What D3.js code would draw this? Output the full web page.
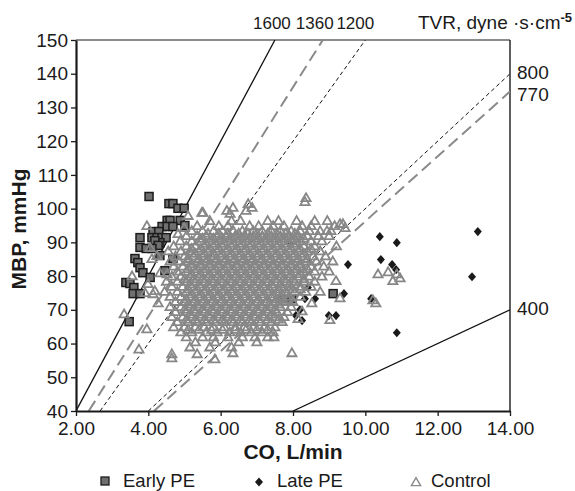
<!DOCTYPE html>
<html lang="en">
<head>
<meta charset="utf-8">
<title>MBP vs CO</title>
<script src="https://d3js.org/d3.v7.min.js"></script>
<style>
  body { margin: 0; background: #fff; }
  svg text { font-family: "Liberation Sans", Arial, sans-serif; fill: #1a1a1a; }
</style>
</head>
<body>
<script>
// tick values
var xTicks = [2, 4, 6, 8, 10, 12, 14];
var yTicks = [40, 50, 60, 70, 80, 90, 100, 110, 120, 130, 140, 150];

// TVR iso-lines (dyne·s·cm-5), MBP = TVR * CO / 80
var tvrValues = [1600, 1360, 1200, 800, 770, 400];

// Early PE  [CO, MBP]
var earlyPE = [
  [4.02,103.6],[4.57,101.5],[4.68,101.5],[4.82,100.1],[4.99,100.1],
  [4.52,96.5],[4.60,96.5],[4.88,96.5],[4.38,94.7],[4.52,94.7],[4.68,94.7],[5.01,95.0],
  [4.13,93.2],[4.29,93.2],[3.77,91.4],[4.10,91.4],[4.24,91.4],[4.38,91.4],[4.49,91.4],
  [4.32,89.9],[4.18,90.5],[4.27,89.1],[3.77,88.5],[3.94,88.2],[4.10,88.2],[4.32,86.1],
  [3.63,85.2],[3.71,84.0],[4.68,85.2],[3.77,82.5],[3.85,81.0],[4.05,79.6],[4.46,81.6],
  [3.38,78.1],[3.49,77.8],[3.60,76.6],[3.58,74.8],[3.77,74.8],[3.47,66.5],
  [7.70,73.3],[7.97,73.3],[9.11,74.8]
];

// Late PE  [CO, MBP]
var latePE = [
  [10.40,91.7],[10.87,89.9],[13.11,93.2],[9.52,83.4],[10.43,84.9],[10.74,83.4],
  [10.85,81.9],[12.95,79.8],[9.41,74.8],[10.16,73.3],[10.87,63.2],[8.33,73.3],
  [8.61,73.3],[8.19,70.0],[8.08,68.3],[8.25,66.8],[8.99,68.3],[9.19,68.3],
  [7.92,89.4],[8.41,76.6]
];

// Control, scattered points [CO, MBP]
var controlOutliers = [
  [3.96,95.0],[4.05,88.5],[4.24,86.1],[4.10,85.2],[4.82,92.6],[5.10,98.0],[5.51,98.9],
  [4.99,94.4],[4.88,90.5],[3.99,77.8],[4.18,75.7],[3.91,75.1],[4.13,74.8],[3.55,80.1],
  [4.52,80.7],[4.32,81.0],[3.33,68.8],[3.96,64.4],[4.27,72.1],[3.74,58.4],
  [4.65,57.0],[4.65,55.8],[5.35,57.0],[5.84,55.5],[6.34,57.3],[7.97,57.3],[7.47,62.0],
  [9.02,67.1],[8.52,72.1],[9.30,73.6],[8.25,69.7],[8.14,67.4],[9.19,78.7],
  [10.35,80.7],[10.63,81.3],[10.87,80.7],[10.96,79.5],[10.76,78.7],[10.29,72.1],[10.21,73.0],
  [9.38,95.6],[9.44,94.4],[8.36,103.3],[8.33,102.1],[9.30,95.6],[8.94,93.5],
  [6.17,99.5],[6.34,100.4],[6.26,98.6],[6.76,101.5],[6.87,100.4],[6.70,99.5],[5.48,98.9]
];

// Control, dense cloud read row by row: [MBP, [CO...]]
var controlRows = [
  [96.5, [5.7, 6.3, 6.55, 7.3, 7.6, 8.1, 8.6, 8.95]],
  [95.0, [5.35, 5.95, 6.2, 6.8, 7.05, 7.45, 7.75, 8.25, 8.5, 9.15]],
  [93.5, [5.2, 5.5, 5.8, 6.05, 6.35, 6.6, 6.9, 7.15, 7.4, 7.65, 7.95, 8.2, 8.45, 8.75, 9.05]],
  [92.75, [5.65, 5.95, 6.2, 6.5, 6.75, 7.0, 7.3, 7.55, 7.8, 8.05]],
  [92.0, [5.05, 5.35, 5.6, 5.9, 6.15, 6.4, 6.65, 6.9, 7.15, 7.4, 7.65, 7.9, 8.15, 8.4, 8.7, 9.0]],
  [91.25, [5.5, 5.8, 6.05, 6.3, 6.55, 6.8, 7.05, 7.3, 7.55, 7.8, 8.05, 8.3]],
  [90.5, [5.2, 5.45, 5.7, 5.95, 6.2, 6.45, 6.7, 6.95, 7.2, 7.45, 7.7, 7.95, 8.2, 8.5, 8.8]],
  [89.75, [5.6, 5.85, 6.1, 6.35, 6.6, 6.85, 7.1, 7.35, 7.6, 7.85, 8.1]],
  [89.0, [4.7, 5.05, 5.3, 5.55, 5.8, 6.05, 6.3, 6.55, 6.8, 7.05, 7.3, 7.55, 7.8, 8.05, 8.3, 8.6, 9.2]],
  [88.25, [5.2, 5.45, 5.7, 5.95, 6.2, 6.45, 6.7, 6.95, 7.2, 7.45, 7.7, 7.95, 8.2, 8.5]],
  [87.5, [4.55, 4.9, 5.15, 5.4, 5.65, 5.9, 6.15, 6.4, 6.65, 6.9, 7.15, 7.4, 7.65, 7.9, 8.15, 8.4, 8.75]],
  [86.75, [5.3, 5.55, 5.8, 6.05, 6.3, 6.55, 6.8, 7.05, 7.3, 7.55, 7.8, 8.05, 8.3]],
  [86.0, [4.75, 5.0, 5.25, 5.5, 5.75, 6.0, 6.25, 6.5, 6.75, 7.0, 7.25, 7.5, 7.75, 8.0, 8.25, 8.55, 8.9]],
  [85.25, [5.1, 5.4, 5.65, 5.9, 6.15, 6.4, 6.65, 6.9, 7.15, 7.4, 7.65, 7.9, 8.15, 8.4]],
  [84.5, [4.6, 4.85, 5.1, 5.35, 5.6, 5.85, 6.1, 6.35, 6.6, 6.85, 7.1, 7.35, 7.6, 7.85, 8.1, 8.35, 8.65, 9.1]],
  [83.75, [5.2, 5.45, 5.7, 5.95, 6.2, 6.45, 6.7, 6.95, 7.2, 7.45, 7.7, 7.95, 8.2]],
  [83.0, [4.7, 4.95, 5.2, 5.45, 5.7, 5.95, 6.2, 6.45, 6.7, 6.95, 7.2, 7.45, 7.7, 7.95, 8.2, 8.5, 8.85]],
  [82.25, [5.1, 5.35, 5.6, 5.85, 6.1, 6.35, 6.6, 6.85, 7.1, 7.35, 7.6, 7.85, 8.1, 8.4]],
  [81.5, [4.8, 5.05, 5.3, 5.55, 5.8, 6.05, 6.3, 6.55, 6.8, 7.05, 7.3, 7.55, 7.8, 8.05, 8.3, 8.6, 9.0]],
  [80.75, [5.2, 5.45, 5.7, 5.95, 6.2, 6.45, 6.7, 6.95, 7.2, 7.45, 7.7, 7.95, 8.2]],
  [80.0, [4.65, 4.9, 5.15, 5.4, 5.65, 5.9, 6.15, 6.4, 6.65, 6.9, 7.15, 7.4, 7.65, 7.9, 8.15, 8.45, 8.8]],
  [79.25, [5.0, 5.25, 5.5, 5.75, 6.0, 6.25, 6.5, 6.75, 7.0, 7.25, 7.5, 7.75, 8.0, 8.3]],
  [78.5, [4.5, 4.8, 5.05, 5.3, 5.55, 5.8, 6.05, 6.3, 6.55, 6.8, 7.05, 7.3, 7.55, 7.8, 8.05, 8.3, 8.6]],
  [77.75, [5.15, 5.4, 5.65, 5.9, 6.15, 6.4, 6.65, 6.9, 7.15, 7.4, 7.65, 7.9]],
  [77.0, [4.65, 4.95, 5.2, 5.45, 5.7, 5.95, 6.2, 6.45, 6.7, 6.95, 7.2, 7.45, 7.7, 7.95, 8.2, 8.5]],
  [76.25, [5.1, 5.35, 5.6, 5.85, 6.1, 6.35, 6.6, 6.85, 7.1, 7.35, 7.6, 7.9, 8.2]],
  [75.5, [4.45, 4.8, 5.05, 5.3, 5.55, 5.8, 6.05, 6.3, 6.55, 6.8, 7.05, 7.3, 7.55, 7.8, 8.05, 8.35, 8.75]],
  [74.75, [5.2, 5.45, 5.7, 5.95, 6.2, 6.45, 6.7, 6.95, 7.2, 7.45, 7.7]],
  [74.0, [4.6, 4.9, 5.15, 5.4, 5.65, 5.9, 6.15, 6.4, 6.65, 6.9, 7.15, 7.4, 7.65, 7.9, 8.2]],
  [73.25, [5.05, 5.3, 5.55, 5.8, 6.05, 6.3, 6.55, 6.8, 7.05, 7.3, 7.55, 7.85]],
  [72.5, [4.75, 5.0, 5.25, 5.5, 5.75, 6.0, 6.25, 6.5, 6.75, 7.0, 7.25, 7.5, 7.75, 8.0]],
  [71.75, [5.1, 5.35, 5.6, 5.85, 6.1, 6.35, 6.6, 6.85, 7.1, 7.35, 7.6]],
  [71.0, [4.6, 4.9, 5.15, 5.4, 5.65, 5.9, 6.15, 6.4, 6.65, 6.9, 7.15, 7.4, 7.65, 7.95]],
  [70.25, [5.0, 5.25, 5.5, 5.75, 6.0, 6.25, 6.5, 6.75, 7.0, 7.25, 7.5]],
  [69.5, [4.75, 5.05, 5.3, 5.55, 5.8, 6.05, 6.3, 6.55, 6.8, 7.05, 7.3, 7.55, 7.85]],
  [68.75, [5.15, 5.4, 5.65, 5.9, 6.15, 6.4, 6.65, 6.9, 7.15, 7.4]],
  [68.0, [4.65, 4.95, 5.2, 5.45, 5.7, 5.95, 6.2, 6.45, 6.7, 6.95, 7.2, 7.5, 7.75]],
  [67.25, [5.05, 5.3, 5.55, 5.8, 6.05, 6.3, 6.55, 6.8, 7.05, 7.3, 7.6]],
  [66.5, [4.8, 5.1, 5.35, 5.6, 5.85, 6.1, 6.35, 6.6, 6.85, 7.1, 7.4, 7.7]],
  [65.0, [4.7, 5.0, 5.3, 5.55, 5.8, 6.1, 6.4, 6.65, 6.9, 7.2, 7.5]],
  [64.25, [5.1, 5.4, 5.75, 6.05, 6.4, 6.7, 7.0, 7.3]],
  [63.5, [4.9, 5.2, 5.6, 5.9, 6.25, 6.55, 6.85, 7.15, 7.45]],
  [62.0, [5.05, 5.5, 5.8, 6.2, 6.6, 6.95, 7.3]],
  [60.5, [5.3, 5.85, 6.5, 7.0]],
  [59.0, [5.15, 5.7, 6.3]]
];

var control = controlOutliers.slice();
controlRows.forEach(function(r) {
  r[1].forEach(function(co) { control.push([co, r[0]]); });
});

var width = 575, height = 491;
var x = d3.scaleLinear().domain([2, 14]).range([76, 510]);
var y = d3.scaleLinear().domain([40, 150]).range([411, 40]);

var svg = d3.select("body").append("svg")
  .attr("width", width).attr("height", height);

svg.append("defs").append("clipPath").attr("id", "plot")
  .append("rect").attr("x", 76).attr("y", 40).attr("width", 434).attr("height", 371);

// plot frame (top/right thin)
svg.append("line").attr("x1", 76).attr("x2", 510).attr("y1", 40).attr("y2", 40)
  .attr("stroke", "#1a1a1a").attr("stroke-width", 1.2);
svg.append("line").attr("x1", 510).attr("x2", 510).attr("y1", 40).attr("y2", 411)
  .attr("stroke", "#1a1a1a").attr("stroke-width", 1.4);

// TVR lines
var lineStyle = {
  1600: {c: "#111", w: 1.3, d: null},
  1360: {c: "#8a8a8a", w: 2, d: "12,6"},
  1200: {c: "#111", w: 1, d: "4,3"},
  800:  {c: "#111", w: 1, d: "4,3"},
  770:  {c: "#8a8a8a", w: 2, d: "12,6"},
  400:  {c: "#111", w: 1.3, d: null}
};
var lineGen = d3.line().x(function(d) { return x(d[0]); }).y(function(d) { return y(d[1]); });
tvrValues.forEach(function(t) {
  var co0 = Math.max(2, 40 * 80 / t), co1 = Math.min(14, 150 * 80 / t);
  var pts = [[co0, t * co0 / 80], [co1, t * co1 / 80]];
  var s = lineStyle[t];
  svg.append("path").attr("d", lineGen(pts))
    .attr("fill", "none").attr("stroke", s.c).attr("stroke-width", s.w)
    .attr("stroke-dasharray", s.d).attr("clip-path", "url(#plot)");
});

var points = svg.append("g").attr("clip-path", "url(#plot)");

// Early PE squares
points.selectAll(".sq").data(earlyPE).enter().append("rect")
  .attr("x", function(d) { return x(d[0]) - 4; })
  .attr("y", function(d) { return y(d[1]) - 4; })
  .attr("width", 8).attr("height", 8)
  .attr("fill", "#6f6f6f").attr("stroke", "#1c1c1c").attr("stroke-width", 1.5);

// Late PE diamonds
var diamond = "M0,-4.6L4,0L0,4.6L-4,0Z";
points.selectAll(".dm").data(latePE).enter().append("path")
  .attr("d", diamond)
  .attr("transform", function(d) { return "translate(" + x(d[0]) + "," + y(d[1]) + ")"; })
  .attr("fill", "#1a1a1a");

// Control triangles (hollow)
var tri = "M0,-4.3L4.6,3.6L-4.6,3.6Z";
points.selectAll(".tr").data(control).enter().append("path")
  .attr("d", tri)
  .attr("transform", function(d) { return "translate(" + x(d[0]) + "," + y(d[1]) + ")"; })
  .attr("fill", "none").attr("stroke", "#878787").attr("stroke-width", 1.8);

// axes
var xAxis = svg.append("g").attr("transform", "translate(0,411)")
  .call(d3.axisBottom(x).tickValues(xTicks).tickFormat(d3.format(".2f")).tickSizeInner(5).tickSizeOuter(0).tickPadding(6));
var yAxis = svg.append("g").attr("transform", "translate(76,0)")
  .call(d3.axisLeft(y).tickValues(yTicks).tickSizeInner(5).tickSizeOuter(0).tickPadding(3));
[xAxis, yAxis].forEach(function(a) {
  a.select(".domain").attr("stroke", "#1a1a1a").attr("stroke-width", 2.2);
  a.selectAll(".tick line").attr("stroke", "#1a1a1a").attr("stroke-width", 1.3);
  a.selectAll(".tick text").attr("font-size", 19).attr("fill", "#1a1a1a")
    .style("font-family", "'Liberation Sans', Arial, sans-serif");
});

// axis titles
svg.append("text").attr("x", 293).attr("y", 459).attr("text-anchor", "middle")
  .attr("font-size", 21).attr("font-weight", "bold").text("CO, L/min");
svg.append("text").attr("transform", "translate(26,229) rotate(-90)").attr("text-anchor", "middle")
  .attr("font-size", 21).attr("font-weight", "bold").text("MBP, mmHg");

// TVR labels
var topLabelDx = {1600: -3, 1360: -8, 1200: -10};
[1600, 1360, 1200].forEach(function(t) {
  svg.append("text").attr("x", x(150 * 80 / t) + topLabelDx[t]).attr("y", 29)
    .attr("text-anchor", "middle").attr("font-size", 17).text(t);
});
var tvrTitle = svg.append("text").attr("x", 418).attr("y", 29).attr("font-size", 19);
tvrTitle.append("tspan").text("TVR, dyne \u00b7s\u00b7cm");
tvrTitle.append("tspan").attr("dy", -7).attr("font-size", 13).attr("font-weight", "bold").text("-5");

var rightLabelDy = {800: 5, 770: 10, 400: 5};
[800, 770, 400].forEach(function(t) {
  svg.append("text").attr("x", 517).attr("y", y(t * 14 / 80) + rightLabelDy[t])
    .attr("font-size", 19).text(t);
});

// legend
var lg = svg.append("g");
lg.append("rect").attr("x", 101).attr("y", 477).attr("width", 8).attr("height", 8)
  .attr("fill", "#6f6f6f").attr("stroke", "#1c1c1c").attr("stroke-width", 1.3);
lg.append("text").attr("x", 123).attr("y", 487).attr("font-size", 18.5).text("Early PE");
lg.append("path").attr("d", diamond).attr("transform", "translate(259,482)").attr("fill", "#1a1a1a");
lg.append("text").attr("x", 277).attr("y", 487).attr("font-size", 18.5).text("Late PE");
lg.append("path").attr("d", tri).attr("transform", "translate(416,482)")
  .attr("fill", "#fff").attr("stroke", "#8a8a8a").attr("stroke-width", 1.4);
lg.append("text").attr("x", 431).attr("y", 487).attr("font-size", 18.5).text("Control");
</script>
</body>
</html>
